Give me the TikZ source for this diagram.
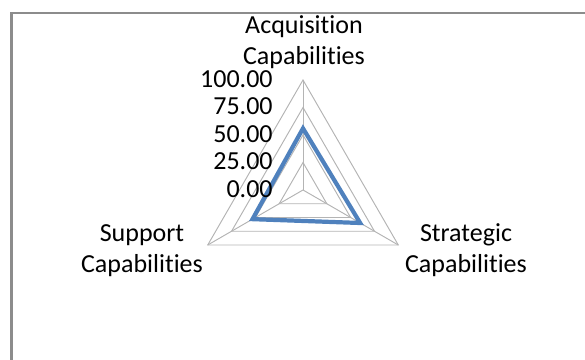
\documentclass[tikz,border=0pt]{standalone}
\usepackage{fontspec}
\setmainfont{Carlito}[Ligatures=NoCommon]
\usepackage{tikz}
\usetikzlibrary{calc}
\usetikzlibrary{positioning}
\definecolor{reihenblau}{HTML}{4F81BD}
\definecolor{gitterGrau}{HTML}{B4B4B4}
\definecolor{rahmenGrau}{HTML}{8C8C8C}
\newcommand{\netzradius}{2.2}

\begin{document}
\begin{tikzpicture}[
  gitter/.style = {draw=gitterGrau, line width=0.55pt},
  reihe/.style = {draw=reihenblau, line width=2.4pt},
  rahmen/.style = {draw=rahmenGrau, line width=1.4pt},
  achse/.style = {align=center, anchor=base, inner sep=0pt, font=\fontsize{14.8}{17.8}\selectfont},
  skala/.style = {anchor=base east, inner sep=0pt, font=\fontsize{14.8}{17.8}\selectfont}
  ]
  \useasboundingbox (0,0) rectangle (11.7,7.2);
  \draw[rahmen] (0.226,0) |- (11.7,6.936);

	\coordinate (@0) at (6.06,3.4);
	\coordinate (@A) at ($(@0)+(90:\netzradius)$);
	\coordinate (@S) at ($(@0)+(-30:\netzradius)$);
	\coordinate (@U) at ($(@0)+(210:\netzradius)$);

	% Gitternetz
	\foreach \stufe in {1,...,4}
		\draw[gitter] ($(@0)+(90:\stufe*\netzradius/4)$) -- ($(@0)+(-30:\stufe*\netzradius/4)$) -- ($(@0)+(210:\stufe*\netzradius/4)$) -- cycle;
	\draw[gitter] (@0) -- (@A);
	\draw[gitter] (@0) -- (@S);
	\draw[gitter] (@0) -- (@U);

	% Werte
	\coordinate (@1) at ($(@0)!0.56!(@A)$);
	\coordinate (@2) at ($(@0)!0.60!(@S)$);
	\coordinate (@3) at ($(@0)!0.53!(@U)$);
	\draw[reihe] (@1) -- (@2) -- (@3) -- cycle;

	% Skala
	\foreach \wert [count=\i from 0] in {0.00,25.00,50.00,75.00,100.00}
		\node[skala] (skala\i) at ($(@0)+(-0.6,\i*\netzradius/4-0.15)$) {\wert};

	\node[achse] (akquisition) at (6.08,5.90) {Acquisition\\Capabilities};
	\node[achse] (strategie)   at (9.32,1.74) {Strategic\\Capabilities};
	\node[achse] (support)     at (2.84,1.74) {Support\\Capabilities};

\end{tikzpicture}
\end{document}
